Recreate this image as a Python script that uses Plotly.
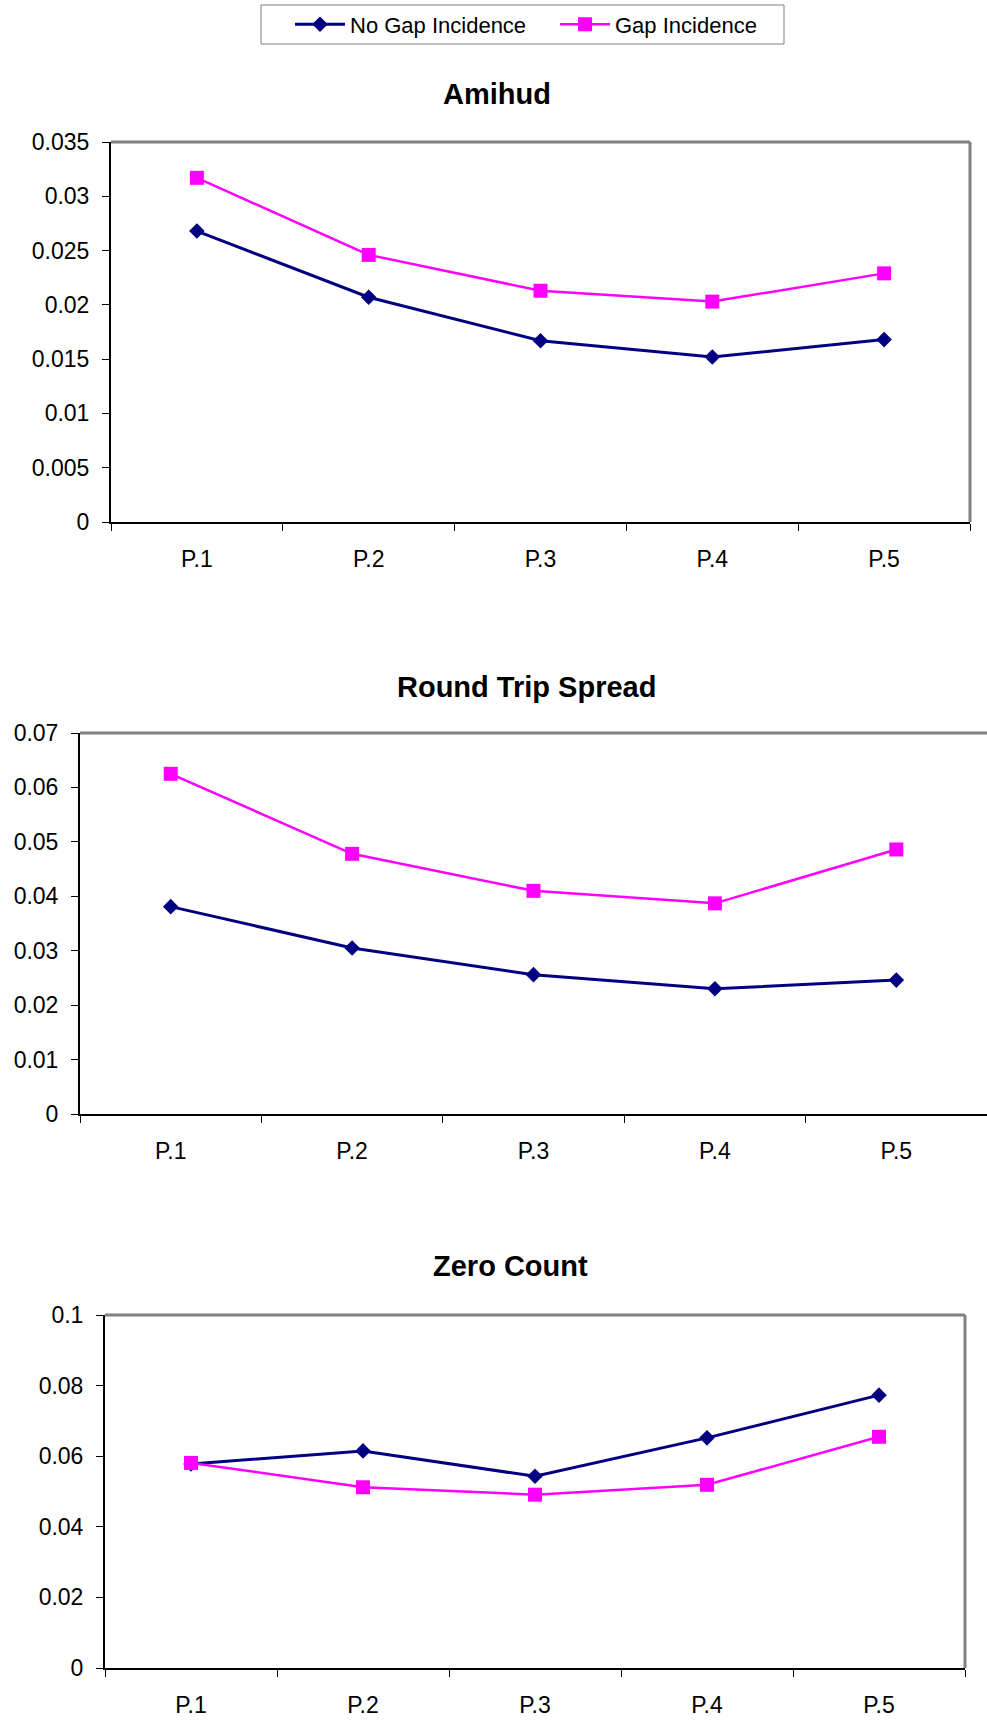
import plotly.graph_objects as go

# Portfolio categories
periods = ["P.1", "P.2", "P.3", "P.4", "P.5"]

# Amihud illiquidity measure
amihud_no_gap = [0.0268, 0.0207, 0.0167, 0.0152, 0.0168]
amihud_gap = [0.0317, 0.0246, 0.0213, 0.0203, 0.0229]

# Round trip spread
spread_no_gap = [0.0381, 0.0305, 0.0256, 0.0230, 0.0246]
spread_gap = [0.0625, 0.0478, 0.0410, 0.0387, 0.0486]

# Zero count
zero_no_gap = [0.0578, 0.0615, 0.0543, 0.0652, 0.0773]
zero_gap = [0.0581, 0.0512, 0.0491, 0.0519, 0.0655]

# Y tick values and labels for each panel
amihud_ticks = [0, 0.005, 0.01, 0.015, 0.02, 0.025, 0.03, 0.035]
amihud_ticktext = ["0", "0.005", "0.01", "0.015", "0.02", "0.025", "0.03", "0.035"]
spread_ticks = [0, 0.01, 0.02, 0.03, 0.04, 0.05, 0.06, 0.07]
spread_ticktext = ["0", "0.01", "0.02", "0.03", "0.04", "0.05", "0.06", "0.07"]
zero_ticks = [0, 0.02, 0.04, 0.06, 0.08, 0.1]
zero_ticktext = ["0", "0.02", "0.04", "0.06", "0.08", "0.1"]

titles = ["Amihud", "Round Trip Spread", "Zero Count"]

W, H = 987, 1722
FONT = "Arial, 'Liberation Sans', Helvetica, sans-serif"
NAVY = "#000080"
PINK = "#FF00FF"

# Panel geometry in pixels: (left, right, top, bottom)
panels = [
    (111, 970, 142, 522),
    (80, 987, 733, 1114),
    (105, 965, 1315, 1668),
]
title_pos = [(497, 94), (526, 687), (510, 1266)]
series = [
    (amihud_no_gap, amihud_gap, amihud_ticks, amihud_ticktext, 0.035),
    (spread_no_gap, spread_gap, spread_ticks, spread_ticktext, 0.07),
    (zero_no_gap, zero_gap, zero_ticks, zero_ticktext, 0.1),
]

fig = go.Figure()
layout = {}
shapes = []
annotations = []

for i, ((l, r, t, b), (blue, pink, tv, tt, ymax)) in enumerate(zip(panels, series)):
    n = "" if i == 0 else str(i + 1)
    xa, ya = "x" + n, "y" + n
    fig.add_trace(go.Scatter(
        x=periods, y=blue, xaxis=xa, yaxis=ya, mode="lines+markers",
        name="No Gap Incidence", legendgroup="a", showlegend=(i == 0),
        line=dict(color=NAVY, width=3),
        marker=dict(symbol="diamond", size=12, color=NAVY),
    ))
    fig.add_trace(go.Scatter(
        x=periods, y=pink, xaxis=xa, yaxis=ya, mode="lines+markers",
        name="Gap Incidence", legendgroup="b", showlegend=(i == 0),
        line=dict(color=PINK, width=2.5),
        marker=dict(symbol="square", size=14, color=PINK),
    ))
    layout["xaxis" + n] = dict(
        domain=[l / W, r / W], anchor=ya, type="category",
        range=[-0.5, 4.5], showgrid=False, zeroline=False,
        showline=True, linecolor="black", linewidth=2,
        ticks="outside", tickson="boundaries", ticklen=7,
        tickcolor="black", tickwidth=1, ticklabelstandoff=15,
        tickfont=dict(family=FONT, size=23, color="black"),
    )
    layout["yaxis" + n] = dict(
        domain=[1 - b / H, 1 - t / H], anchor=xa, range=[0, ymax],
        tickvals=tv, ticktext=tt, showgrid=False, zeroline=False,
        showline=True, linecolor="black", linewidth=2,
        ticks="outside", ticklen=7, tickcolor="black", tickwidth=1,
        ticklabelstandoff=8,
        tickfont=dict(family=FONT, size=23, color="black"),
    )
    # grey top and right border of the plot area
    shapes.append(dict(type="line", xref=xa + " domain", yref=ya + " domain",
                       x0=0, x1=1, y0=1, y1=1,
                       line=dict(color="#808080", width=3)))
    if r < W:
        shapes.append(dict(type="line", xref=xa + " domain", yref=ya + " domain",
                           x0=1, x1=1, y0=0, y1=1,
                           line=dict(color="#808080", width=3)))
    tx, ty = title_pos[i]
    annotations.append(dict(
        text="<b>%s</b>" % titles[i], x=tx / W, y=1 - ty / H,
        xref="paper", yref="paper", xanchor="center", yanchor="middle",
        showarrow=False, font=dict(family=FONT, size=29, color="black"),
    ))

# legend frame
shapes.append(dict(type="rect", xref="paper", yref="paper",
                   x0=261 / W, x1=784 / W, y0=1 - 44 / H, y1=1 - 5 / H,
                   line=dict(color="#808080", width=1), fillcolor="white",
                   layer="below"))

fig.update_layout(
    **layout,
    width=W, height=H,
    margin=dict(l=0, r=0, t=0, b=0, autoexpand=False),
    paper_bgcolor="white", plot_bgcolor="white",
    shapes=shapes, annotations=annotations,
    showlegend=True,
    legend=dict(
        orientation="h", x=290 / W, y=1 - 24.5 / H, xanchor="left", yanchor="middle",
        borderwidth=0, bgcolor="rgba(0,0,0,0)",
        font=dict(family=FONT, size=22, color="black"),
        itemwidth=50, entrywidth=200, entrywidthmode="pixels",
    ),
)

fig.write_html("out.html")
